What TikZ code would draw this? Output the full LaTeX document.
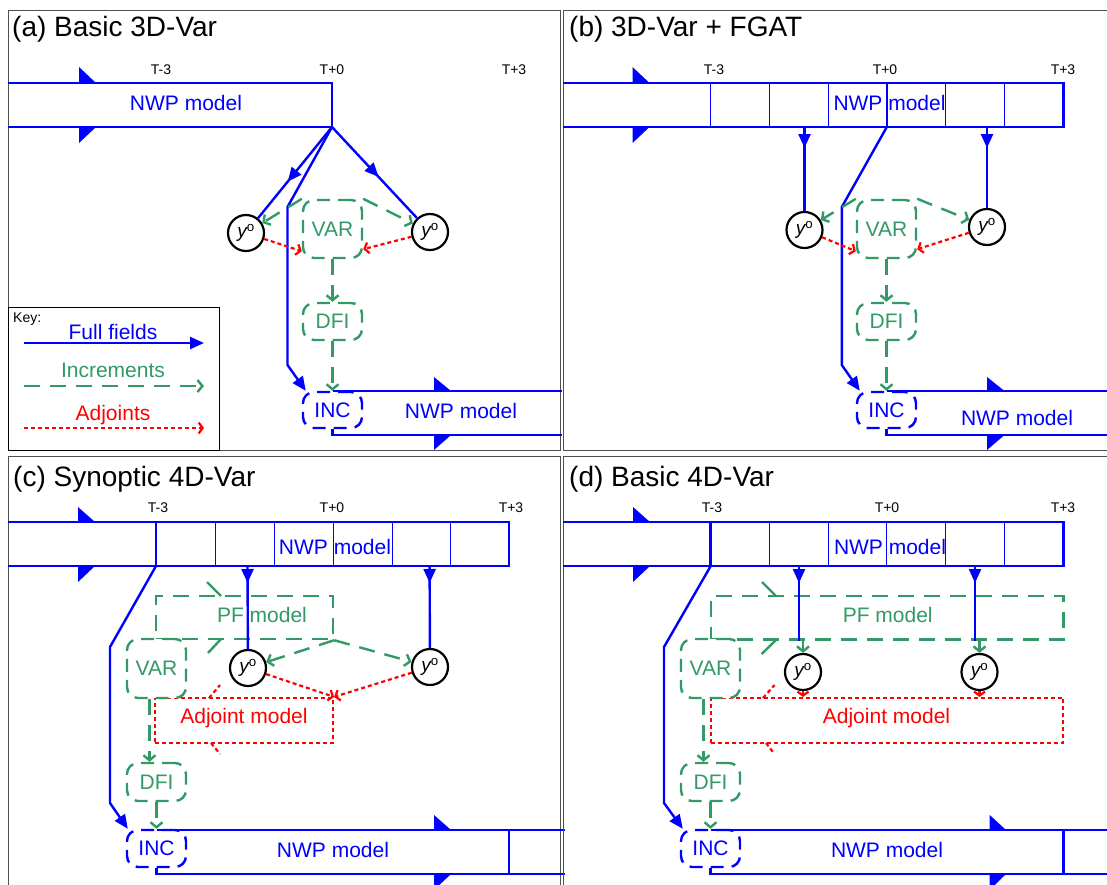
\documentclass[tikz,border=0pt]{standalone}
\usepackage{fontspec}
\setmainfont{Liberation Sans}
\usetikzlibrary{arrows.meta,decorations.markings}
\definecolor{gcol}{RGB}{51,153,102}
\definecolor{bcol}{RGB}{0,0,255}
\definecolor{rcol}{RGB}{255,0,0}
\definecolor{pcol}{RGB}{80,80,80}
\newcommand\myyo{{\itshape y}\textsuperscript{o}}
\tikzset{
  panel/.style={draw=pcol, line width=1pt},
  barline/.style={draw=bcol, line width=2.6pt},
  cellline/.style={draw=bcol, line width=1pt},
  flag/.style={fill=bcol},
  big/.style={font=\fontsize{21}{24}\selectfont},
  ptitle/.style={font=\fontsize{28}{32}\selectfont, anchor=west, inner sep=0pt},
  tlabel/.style={font=\fontsize{14}{16}\selectfont, inner sep=0pt},
  full/.style={draw=bcol, line width=2.4pt, -{Triangle[length=14pt,width=12pt]}},
  fullmid/.style={draw=bcol, line width=2.4pt, decoration={markings, mark=at position #1 with {\arrow{Triangle[length=14pt,width=12pt]}}}, postaction={decorate}},
  incr/.style={draw=gcol, line width=2.4pt, dash pattern=on 16pt off 10pt, -{Straight Barb[length=5pt,width=12pt]}},
  gline/.style={draw=gcol, line width=2.4pt},
  adj/.style={draw=rcol, line width=2.2pt, dash pattern=on 4pt off 3pt, -{Straight Barb[length=4pt,width=11pt]}},
  rline/.style={draw=rcol, line width=2.2pt, dash pattern=on 4pt off 3pt},
  gbox/.style={draw=gcol, line width=2.4pt, dash pattern=on 13pt off 8pt, rounded corners=11pt, minimum width=59pt, text=gcol, big, inner sep=0pt, fill=white},
  incbox/.style={draw=bcol, line width=2.4pt, dash pattern=on 13pt off 8pt, rounded corners=11pt, minimum width=59pt, minimum height=36pt, text=bcol, big, inner sep=0pt, fill=white},
  obs/.style={circle, draw=black, line width=2.2pt, minimum size=36pt, inner sep=0pt, fill=white, font=\fontsize{19}{21}\selectfont},
  pfbox/.style={draw=gcol, line width=2.4pt, dash pattern=on 16pt off 10pt, text=gcol, big, inner sep=0pt},
  adjbox/.style={draw=rcol, line width=2.2pt, dash pattern=on 4pt off 3pt, text=rcol, big, inner sep=0pt},
  bluetext/.style={text=bcol, big, inner sep=0pt},
}
\begin{document}
\begin{tikzpicture}[x=1pt,y=-1pt]
\useasboundingbox (0,0) rectangle (1107,884);
\clip (0,0) rectangle (1107,884);
\fill[white] (0,0) rectangle (1107,884);

% ================= panel (a) =================
\draw[panel] (8,10) rectangle (560,450);
\node[ptitle] (a-title) at (12,29) {(a) Basic 3D-Var};
\node[tlabel] (a-l1) at (161,70) {T-3};
\node[tlabel] (a-l2) at (332,70) {T+0};
\node[tlabel] (a-l3) at (514,70) {T+3};
\draw[barline] (8,83) -- (332,83) -- (332,127) -- (8,127);
\fill[flag] (79,67) -- (79,83) -- (96,83) -- cycle;
\fill[flag] (79,127) -- (96,127) -- (79,143) -- cycle;
\node[bluetext] (a-nwp1) at (186,103) {NWP model};
\coordinate (a-t0) at (332,127);
\node[obs] (a-yl) at (246,233) {\myyo};
\node[obs] (a-yr) at (430,232) {\myyo};
\node[gbox, minimum height=58pt] (a-var) at (332.5,229) {VAR};
\node[gbox, minimum height=37pt] (a-dfi) at (332.5,321.5) {DFI};
\node[incbox] (a-inc) at (332.5,410) {INC};
\draw[barline] (332.5,391) -- (562,391);
\draw[barline] (a-inc.south) -- (332.5,435) -- (562,435);
\fill[flag] (434,377) -- (434,391) -- (451,391) -- cycle;
\fill[flag] (434,435) -- (451,435) -- (434,450) -- cycle;
\node[bluetext] (a-nwp2) at (461,411) {NWP model};
\draw[fullmid=0.6] (a-t0) -- (a-yl);
\draw[fullmid=0.55] (a-t0) -- (a-yr);
\draw[full] (a-t0) -- (287.5,207) -- (287.5,365) -- ([xshift=4pt]a-inc.north west);
\draw[incr] (a-var.north west) -- (a-yl);
\draw[incr] (a-var.north east) -- (a-yr);
\draw[adj] (a-yl) -- ([yshift=8pt]a-var.south west);
\draw[adj] (a-yr) -- ([yshift=10pt]a-var.south east);
\draw[incr] (a-var) -- (a-dfi);
\draw[incr] (a-dfi) -- (a-inc);
% key
\draw[draw=black, line width=1pt] (8,307) rectangle (219,450);
\node[font=\fontsize{14}{16}\selectfont, anchor=west, inner sep=0pt] (key) at (13,319) {Key:};
\node[bluetext] (k1) at (113,332) {Full fields};
\coordinate (k1a) at (24,343); \coordinate (k1b) at (204,343);
\draw[full] (k1a) -- (k1b);
\node[big, text=gcol, inner sep=0pt] (k2) at (113,370) {Increments};
\coordinate (k2a) at (24,386); \coordinate (k2b) at (204,386);
\draw[incr] (k2a) -- (k2b);
\node[big, text=rcol, inner sep=0pt] (k3) at (113,415) {Adjoints};
\coordinate (k3a) at (24,428); \coordinate (k3b) at (204,428);
\draw[adj] (k3a) -- (k3b);

% ================= panel (b) =================
\draw[panel] (1120,10) -- (563,10) -- (563,450) -- (1120,450);
\node[ptitle] (b-title) at (569,29) {(b) 3D-Var + FGAT};
\node[tlabel] (b-l1) at (714,70) {T-3};
\node[tlabel] (b-l2) at (885,70) {T+0};
\node[tlabel] (b-l3) at (1063,70) {T+3};
\foreach \x in {710.7,769.3,828.2,945.8,1004.7} \draw[cellline] (\x,83) -- (\x,127);
\draw[barline] (886.8,83) -- (886.8,127);
\draw[barline] (563,83) -- (1063.7,83) -- (1063.7,127) -- (563,127);
\fill[flag] (632.5,67) -- (632.5,83) -- (649.5,83) -- cycle;
\fill[flag] (632.5,127) -- (649.5,127) -- (632.5,143) -- cycle;
\node[bluetext] (b-nwp1) at (889.5,103) {NWP model};
\coordinate (b-t0) at (886.8,127);
\coordinate (b-o1) at (804.5,127);
\coordinate (b-o2) at (987,127);
\node[obs] (b-yl) at (804.5,230) {\myyo};
\node[obs] (b-yr) at (987,227) {\myyo};
\node[gbox, minimum height=58pt] (b-var) at (886.5,229) {VAR};
\node[gbox, minimum height=37pt] (b-dfi) at (886.5,321.5) {DFI};
\node[incbox] (b-inc) at (886.5,410) {INC};
\draw[barline] (886.5,391) -- (1110,391);
\draw[barline] (b-inc.south) -- (886.5,435) -- (1110,435);
\fill[flag] (987,377) -- (987,391) -- (1004.5,391) -- cycle;
\fill[flag] (987,435) -- (1004.5,435) -- (987,450) -- cycle;
\node[bluetext] (b-nwp2) at (1017,418) {NWP model};
\draw[fullmid=21pt] (b-o1) -- (b-yl);
\draw[fullmid=21pt] (b-o2) -- (b-yr);
\draw[full] (b-t0) -- (841.8,207) -- (841.8,365) -- ([xshift=4pt]b-inc.north west);
\draw[incr] (b-var.north west) -- (b-yl);
\draw[incr] (b-var.north east) -- (b-yr);
\draw[adj] (b-yl) -- ([yshift=8pt]b-var.south west);
\draw[adj] (b-yr) -- ([yshift=10pt]b-var.south east);
\draw[incr] (b-var) -- (b-dfi);
\draw[incr] (b-dfi) -- (b-inc);

% ================= panel (c) =================
\draw[panel] (8,890) -- (8,456) -- (560,456) -- (560,890);
\node[ptitle] (c-title) at (13,479) {(c) Synoptic 4D-Var};
\node[tlabel] (c-l1) at (158,508) {T-3};
\node[tlabel] (c-l2) at (332,508) {T+0};
\node[tlabel] (c-l3) at (511,508) {T+3};
\foreach \x in {215,274,333,392,450} \draw[cellline] (\x,522) -- (\x,566);
\draw[barline] (156,522) -- (156,566);
\draw[barline] (8,522) -- (509,522) -- (509,566) -- (8,566);
\fill[flag] (78,507) -- (78,522) -- (95,522) -- cycle;
\fill[flag] (78,566) -- (95,566) -- (78,582) -- cycle;
\node[bluetext] (c-nwp1) at (335,547) {NWP model};
\coordinate (c-tm3) at (156,566);
\coordinate (c-o1) at (247.5,566);
\coordinate (c-o2) at (429.6,566);
\node[pfbox, minimum width=177pt, minimum height=43pt] (c-pf) at (244.5,617.5) {};
\node[big, text=gcol, inner sep=0pt] (c-pft) at (262,615) {PF model};
\node[adjbox, minimum width=178pt, minimum height=45pt] (c-adj) at (244,720.5) {};
\node[big, text=rcol, inner sep=0pt] (c-adjt) at (244,718) {Adjoint model};
\node[obs] (c-yl) at (248,668) {\myyo};
\node[obs] (c-yr) at (430,667) {\myyo};
\node[gbox, minimum height=59pt] (c-var) at (156.5,668.5) {VAR};
\node[gbox, minimum height=38pt] (c-dfi) at (156.5,782) {DFI};
\node[incbox, minimum height=37pt] (c-inc) at (156.5,848.5) {INC};
\draw[barline] (156.5,830) -- (565,830);
\draw[barline] (c-inc.south) -- (156.5,874) -- (565,874);
\draw[barline] (509,830) -- (509,874);
\fill[flag] (434,815) -- (434,830) -- (451,830) -- cycle;
\fill[flag] (434,874) -- (451,874) -- (434,890) -- cycle;
\node[bluetext] (c-nwp2) at (333,850) {NWP model};
\draw[fullmid=17pt] (c-o1) -- (c-yl);
\draw[fullmid=17pt] (c-o2) -- (c-yr);
\draw[full] (c-tm3) -- (110,647) -- (110,803) -- ([xshift=2pt]c-inc.north west);
\draw[incr] (c-pf.south east) -- (c-yl);
\draw[incr] (c-pf.south east) -- (c-yr);
\draw[adj] (c-yl) -- (c-adj.north east);
\draw[adj] (c-yr) -- (c-adj.north east);
\draw[gline] (207,582) -- (221,596);
\draw[gline] (208,653) -- (221,639);
\draw[rline] (209,698) -- (220,685);
\draw[rline] (211,743) -- (220,754);
\draw[incr] ([xshift=-7pt]c-var.south) -- ([xshift=-7pt]c-dfi.north);
\draw[incr] (c-dfi) -- (c-inc);

% ================= panel (d) =================
\draw[panel] (1120,456) -- (563,456) -- (563,890);
\node[ptitle] (d-title) at (569,479) {(d) Basic 4D-Var};
\node[tlabel] (d-l1) at (712,508) {T-3};
\node[tlabel] (d-l2) at (887,508) {T+0};
\node[tlabel] (d-l3) at (1063,508) {T+3};
\foreach \x in {769.3,828.2,886.8,945.8,1004.7} \draw[cellline] (\x,522) -- (\x,566);
\draw[barline] (710.7,522) -- (710.7,566);
\draw[barline] (563,522) -- (1063.3,522) -- (1063.3,566) -- (563,566);
\fill[flag] (633,507) -- (633,522) -- (650,522) -- cycle;
\fill[flag] (633,566) -- (650,566) -- (633,582) -- cycle;
\node[bluetext] (d-nwp1) at (890,547) {NWP model};
\coordinate (d-tm3) at (710.7,566);
\coordinate (d-o1) at (799,566);
\coordinate (d-o2) at (975,566);
\node[pfbox, minimum width=352.6pt, minimum height=43.6pt] (d-pf) at (887,617.5) {};
\node[big, text=gcol, inner sep=0pt] (d-pft) at (887.7,615) {PF model};
\node[adjbox, minimum width=352.6pt, minimum height=44.7pt] (d-adj) at (887,720.4) {};
\node[big, text=rcol, inner sep=0pt] (d-adjt) at (886.5,718) {Adjoint model};
\node[obs] (d-yl) at (803,672) {\myyo};
\node[obs] (d-yr) at (979.5,672) {\myyo};
\node[gbox, minimum height=59pt] (d-var) at (710.5,668.5) {VAR};
\node[gbox, minimum height=38pt] (d-dfi) at (710.5,782) {DFI};
\node[incbox, minimum height=37pt] (d-inc) at (710.5,848.5) {INC};
\draw[barline] (710.5,830) -- (1110,830);
\draw[barline] (d-inc.south) -- (710.5,874) -- (1110,874);
\draw[barline] (1063.3,830) -- (1063.3,874);
\fill[flag] (989.7,815) -- (989.7,830) -- (1006,830) -- cycle;
\fill[flag] (989.7,874) -- (1006,874) -- (989.7,890) -- cycle;
\node[bluetext] (d-nwp2) at (887,850) {NWP model};
\draw[fullmid=17pt] (d-o1) -- (d-o1 |- d-pf.south);
\draw[fullmid=17pt] (d-o2) -- (d-o2 |- d-pf.south);
\draw[full] (d-tm3) -- (664,647) -- (664,803) -- ([xshift=3pt]d-inc.north west);
\draw[incr] (d-yl.north |- d-pf.south) -- (d-yl);
\draw[incr] (d-yr.north |- d-pf.south) -- (d-yr);
\draw[adj] (d-yl) -- (d-yl |- d-adj.north);
\draw[adj] (d-yr) -- (d-yr |- d-adj.north);
\draw[gline] (762,582) -- (776,596);
\draw[gline] (761.6,654) -- (776,640);
\draw[rline] (763,698) -- (774.5,685);
\draw[rline] (766,743) -- (774.5,754);
\draw[incr] ([xshift=-7pt]d-var.south) -- ([xshift=-7pt]d-dfi.north);
\draw[incr] (d-dfi) -- (d-inc);
\end{tikzpicture}
\end{document}
